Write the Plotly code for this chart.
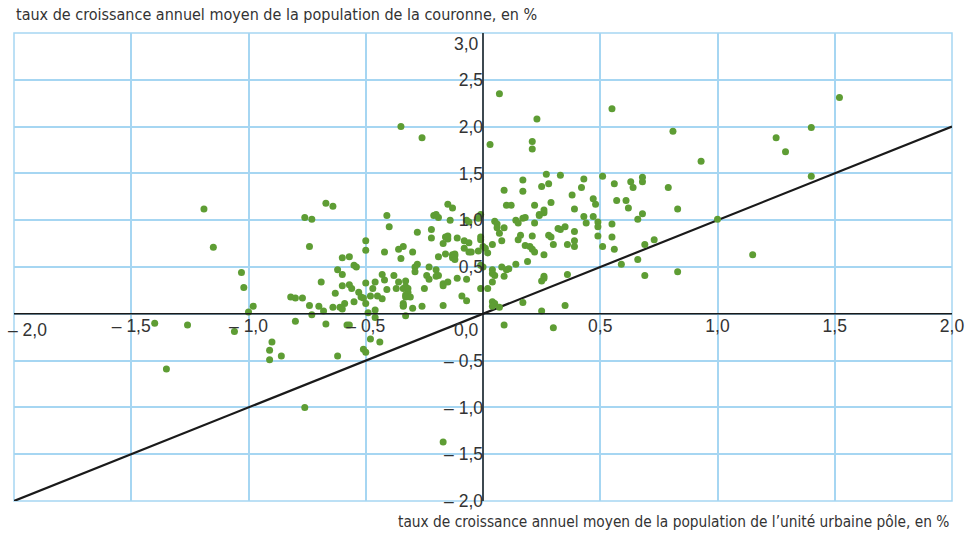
import plotly.graph_objects as go

# --- data ---
points = [
    # outliers
    (-0.35, 2.00), (-0.26, 1.88), (-1.19, 1.12), (-1.15, 0.71), (-0.76, 1.03), (-0.73, 1.01), (-0.67, 1.18),
    (-0.64, 1.15), (-0.74, 0.72), (-1.40, -0.10), (-1.26, -0.12), (-1.35, -0.59), (-0.90, -0.30), (-0.91, -0.39),
    (-0.91, -0.49), (-0.86, -0.45), (-0.76, -1.00), (-0.62, -0.45), (-0.17, -1.37), (-1.03, 0.44), (-1.02, 0.28),
    (-0.98, 0.08), (-1.00, 0.02), (-1.06, -0.19), (0.07, 2.35), (0.23, 2.08), (0.55, 2.19), (0.81, 1.95),
    (1.52, 2.31), (1.40, 1.99), (1.25, 1.88), (1.29, 1.73), (0.93, 1.63), (1.40, 1.47), (0.03, 1.81),
    (0.21, 1.84), (0.21, 1.76), (1.00, 1.01), (1.15, 0.63),
    # left-centre cloud
    (-0.50, 0.78), (-0.50, 0.68), (-0.41, 1.05), (-0.40, 0.93), (-0.42, 0.66), (-0.60, 0.60), (-0.57, 0.61),
    (-0.55, 0.52), (-0.54, 0.50), (-0.82, 0.18), (-0.80, 0.17), (-0.77, 0.17), (-0.74, 0.09), (-0.70, 0.08),
    (-0.73, -0.01), (-0.80, -0.08), (-0.69, 0.34), (-0.68, 0.03), (-0.67, -0.11), (-0.62, 0.47), (-0.60, 0.42),
    (-0.63, 0.22), (-0.60, 0.30), (-0.59, 0.11), (-0.64, 0.07), (-0.61, 0.07), (-0.60, 0.05), (-0.58, -0.12),
    (-0.57, -0.12), (-0.57, 0.31), (-0.56, 0.27), (-0.55, 0.13), (-0.53, 0.23), (-0.52, 0.18), (-0.51, 0.17),
    (-0.50, 0.33), (-0.50, 0.11), (-0.49, 0.01), (-0.46, 0.04), (-0.46, -0.04), (-0.48, -0.27), (-0.44, -0.30),
    (-0.51, -0.38), (-0.50, -0.41), (-0.48, 0.19), (-0.47, 0.27), (-0.46, 0.34), (-0.45, 0.19), (-0.43, 0.16),
    (-0.43, 0.42), (-0.42, 0.36), (-0.41, 0.26), (-0.38, 0.41), (-0.37, 0.27), (-0.35, 0.59), (-0.36, 0.69),
    (-0.34, 0.72), (-0.30, 0.66), (-0.28, 0.87), (-0.36, 0.34), (-0.33, 0.35), (-0.34, 0.27), (-0.33, 0.29),
    (-0.32, 0.27), (-0.32, 0.23), (-0.33, 0.20), (-0.33, 0.18), (-0.31, 0.18), (-0.34, 0.11), (-0.34, 0.09),
    (-0.34, 0.08), (-0.30, 0.06), (-0.33, -0.02), (-0.26, 0.08), (-0.25, 0.27), (-0.29, 0.45), (-0.28, 0.53),
    (-0.29, 0.50), (-0.23, 0.50), (-0.24, 0.41), (-0.23, 0.37), (-0.20, 0.47), (-0.20, 0.40), (-0.19, 0.41),
    (-0.22, 0.81), (-0.22, 0.90), (-0.17, 0.32), (-0.17, 0.30), (-0.15, 0.34), (-0.17, 0.09), (-0.09, 0.19),
    (-0.07, 0.14), (-0.11, 0.38), (-0.07, 0.37), (-0.19, 0.61), (-0.16, 0.64), (-0.12, 0.64), (-0.17, 0.75),
    (-0.16, 0.82), (-0.15, 0.80), (-0.15, 0.83), (-0.21, 1.05), (-0.20, 1.06), (-0.19, 1.03), (-0.15, 1.17),
    (-0.13, 1.13), (-0.14, 1.00), (-0.11, 0.81), (-0.13, 0.63), (-0.12, 0.62), (-0.13, 0.60), (-0.08, 0.70),
    (-0.08, 0.78), (-0.06, 0.76), (-0.07, 1.00), (-0.06, 0.98), (-0.06, 0.66), (-0.05, 0.66), (-0.02, 0.67),
    (-0.01, 0.82), (-0.01, 0.79), (0.00, 0.72), (0.01, 0.70), (0.02, 0.65), (-0.01, 1.06), (-0.01, 0.52),
    (0.00, 0.50), (-0.01, 0.27), (0.02, 0.27), (-0.12, 0.58), (-0.02, 1.02),
    # right cloud
    (0.27, 1.49), (0.33, 1.48), (0.51, 1.47), (0.17, 1.43), (0.28, 1.39), (0.25, 1.36), (0.43, 1.44),
    (0.42, 1.35), (0.56, 1.39), (0.63, 1.41), (0.64, 1.35), (0.68, 1.46), (0.68, 1.41), (0.79, 1.35),
    (0.09, 1.32), (0.17, 1.31), (0.10, 1.16), (0.12, 1.16), (0.22, 1.16), (0.29, 1.19), (0.38, 1.27),
    (0.47, 1.23), (0.48, 1.17), (0.57, 1.21), (0.61, 1.21), (0.62, 1.13), (0.83, 1.12), (0.68, 1.07),
    (0.66, 1.01), (0.39, 1.12), (0.43, 1.04), (0.44, 0.97), (0.47, 1.04), (0.49, 0.98), (0.49, 0.93),
    (0.55, 0.96), (0.55, 0.82), (0.49, 0.83), (0.51, 0.72), (0.56, 0.69), (0.59, 0.53), (0.66, 0.58),
    (0.73, 0.79), (0.69, 0.74), (0.69, 0.41), (0.83, 0.45), (0.39, 0.88), (0.39, 0.78), (0.39, 0.72),
    (0.36, 0.74), (0.35, 0.93), (0.33, 0.90), (0.32, 0.91), (0.30, 0.74), (0.28, 0.84), (0.29, 0.82),
    (0.26, 0.63), (0.26, 1.11), (0.26, 1.08), (0.24, 1.06), (0.24, 1.05), (0.22, 0.97), (0.21, 0.83),
    (0.20, 0.72), (0.21, 0.69), (0.22, 0.66), (0.19, 0.56), (0.17, 1.02), (0.18, 1.03), (0.14, 1.00),
    (0.15, 0.97), (0.16, 0.84), (0.15, 0.79), (0.18, 0.73), (0.14, 0.53), (0.11, 0.48), (0.10, 0.47),
    (0.09, 0.40), (0.08, 0.50), (0.05, 0.99), (0.06, 0.96), (0.06, 0.92), (0.09, 0.92), (0.07, 0.86),
    (0.08, 0.78), (0.04, 0.74), (0.04, 0.47), (0.04, 0.43), (0.05, 0.41), (0.04, 0.34), (0.04, 0.13),
    (0.05, 0.11), (0.04, 0.08), (0.07, 0.07), (0.17, 0.12), (0.25, 0.03), (0.26, 0.40), (0.26, 0.38),
    (0.25, 0.35), (0.36, 0.42), (0.35, 0.09), (0.09, -0.12), (0.30, -0.15),
]
pole_growth = [p[0] for p in points]
crown_growth = [p[1] for p in points]

bisector_x = [-2, 2]
bisector_y = [-2, 2]

x_ticks = [-2.0, -1.5, -1.0, -0.5, 0.0, 0.5, 1.0, 1.5, 2.0]
x_ticktext = ["", "– 1,5", "– 1,0", "– 0,5", "", "0,5", "1,0", "1,5", "2,0"]
y_ticks = [-2.0, -1.5, -1.0, -0.5, 0.0, 0.5, 1.0, 1.5, 2.0, 2.5, 3.0]
y_ticktext = ["– 2,0", "– 1,5", "– 1,0", "– 0,5", "", "0,5", "1,0", "1,5", "2,0", "2,5", ""]

y_title = "taux de croissance annuel moyen de la population de la couronne, en %"
x_title = "taux de croissance annuel moyen de la population de l’unité urbaine pôle, en %"

FONT = "Liberation Sans Narrow, DejaVu Sans Condensed, Arial Narrow, sans-serif"
TICKFONT = "Liberation Sans, Arial, sans-serif"
TICKSIZE = 17.5
GRID = "#a6d6f2"
GREEN = "#5e9d34"
TEXT = "#333333"

fig = go.Figure()
fig.add_trace(go.Scatter(x=bisector_x, y=bisector_y, mode="lines",
                         line=dict(color="#1a1a1a", width=2.2), hoverinfo="skip"))
fig.add_trace(go.Scatter(x=pole_growth, y=crown_growth, mode="markers",
                         marker=dict(color=GREEN, size=7, line=dict(width=0))))

tickfont = dict(family=TICKFONT, size=TICKSIZE, color=TEXT)

fig.update_layout(
    width=970, height=534,
    margin=dict(l=14, r=18, t=33, b=33, autoexpand=False),
    paper_bgcolor="white", plot_bgcolor="white",
    showlegend=False,
    font=dict(family=FONT, size=16, color=TEXT),
    xaxis=dict(range=[-2, 2], tickmode="array", tickvals=x_ticks, ticktext=x_ticktext,
               showgrid=True, gridcolor=GRID, gridwidth=1.5,
               zeroline=False, showline=False, ticks="", automargin=False,
               ticklabeloverflow="allow",
               anchor="free", position=0.4, tickfont=tickfont),
    yaxis=dict(range=[-2, 3], tickmode="array", tickvals=y_ticks, ticktext=y_ticktext,
               showgrid=True, gridcolor=GRID, gridwidth=1.5,
               zeroline=False, showline=False, ticks="", automargin=False,
               ticklabeloverflow="allow",
               anchor="free", position=0.5, tickfont=tickfont),
    shapes=[
        dict(type="rect", xref="paper", yref="paper", x0=0, x1=1, y0=0, y1=1,
             line=dict(color=GRID, width=1.5), layer="below"),
        dict(type="line", xref="x", yref="paper", x0=0, x1=0, y0=0, y1=1,
             line=dict(color="#1a1a1a", width=1.5)),
        dict(type="line", xref="paper", yref="y", x0=0, x1=1, y0=0, y1=0,
             line=dict(color="#1a1a1a", width=1.5)),
    ],
    annotations=[
        dict(text=y_title, xref="paper", yref="paper", x=0, y=1, xanchor="left", yanchor="bottom",
             yshift=7, showarrow=False, font=dict(size=16, color=TEXT)),
        dict(text=x_title, xref="paper", yref="paper", x=1, y=0, xanchor="right", yanchor="top",
             yshift=-10, xshift=-1, showarrow=False, font=dict(size=15.3, color=TEXT)),
        dict(text="0,0", x=0, y=0, xanchor="right", yanchor="top", xshift=-2, yshift=-4,
             showarrow=False, font=tickfont),
        dict(text="– 2,0", x=-2, y=0, xanchor="left", yanchor="top", xshift=-8, yshift=-4,
             showarrow=False, font=tickfont),
        dict(text="3,0", x=0, y=3, xanchor="right", yanchor="top", xshift=-2, yshift=1,
             showarrow=False, font=tickfont),
    ],
)

fig.write_html("out.html")
